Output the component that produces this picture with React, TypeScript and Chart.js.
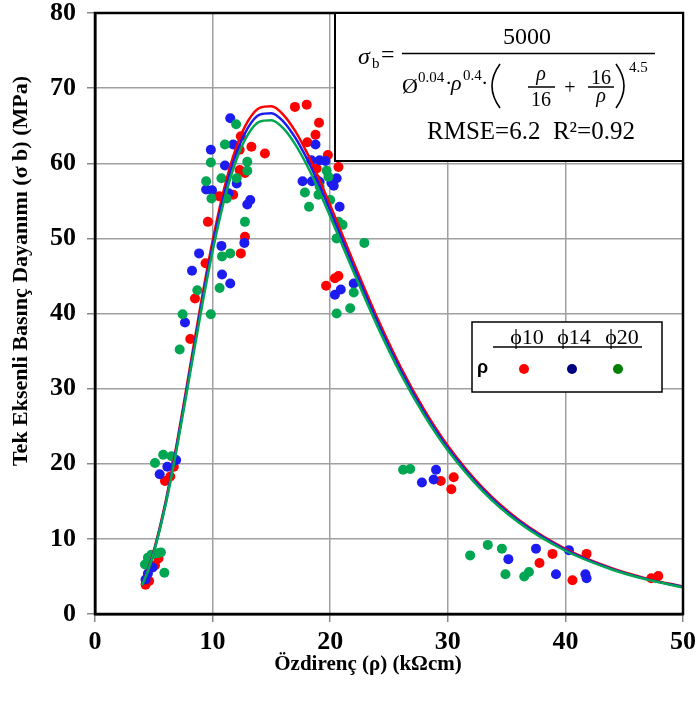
import React, { useEffect, useRef } from "react";
import { Chart, registerables } from "chart.js";

Chart.register(...registerables);

// ---- fitted curves (σb vs ρ) for the three diameters ----
const curveRho = [4, 4.5, 5, 6, 7, 8, 9, 10, 11, 12, 13, 14, 15, 16, 17, 18, 19, 20, 22, 24, 26, 28, 30, 33, 36, 40, 44, 47, 50];
const curvePhi10 = [3.9, 5.88, 8.4, 14.92, 23.07, 32.14, 41.27, 49.64, 56.72, 62.07, 65.6, 67.38, 67.58, 66.48, 64.34, 61.48, 58.1, 54.4, 46.76, 39.43, 32.85, 27.18, 22.41, 16.75, 12.57, 8.66, 6.05, 4.68, 3.65];
const curvePhi14 = [3.85, 5.81, 8.29, 14.72, 22.76, 31.71, 40.71, 48.98, 55.96, 61.24, 64.71, 66.48, 66.67, 65.59, 63.48, 60.66, 57.33, 53.67, 46.13, 38.9, 32.41, 26.81, 22.11, 16.53, 12.4, 8.54, 5.97, 4.61, 3.6];
const curvePhi20 = [3.79, 5.72, 8.17, 14.51, 22.43, 31.26, 40.14, 48.28, 55.17, 60.37, 63.8, 65.54, 65.73, 64.67, 62.58, 59.8, 56.52, 52.91, 45.48, 38.35, 31.95, 26.43, 21.79, 16.29, 12.22, 8.42, 5.89, 4.55, 3.55];

// ---- measured points ----
const redX = [4.3, 4.6, 5.1, 5.4, 5.95, 6.4, 6.7, 8.1, 8.5, 9.4, 9.6, 10.55, 11.75, 12.4, 12.75, 12.75, 12.3, 12.3, 12.4, 13.3, 14.45, 17.0, 18.0, 19.05, 18.75, 18.05, 19.8, 20.7, 18.85, 18.85, 19.65, 20.4, 20.7, 29.4, 30.5, 30.3, 37.8, 38.9, 40.6, 41.8, 47.3, 47.9];
const redY = [3.9, 4.4, 6.5, 7.4, 17.7, 18.3, 19.6, 36.6, 42.0, 46.7, 52.2, 55.6, 55.8, 48.0, 50.2, 58.7, 59.1, 61.8, 63.6, 62.2, 61.3, 67.5, 67.8, 65.4, 63.8, 62.8, 61.1, 59.5, 59.3, 57.8, 43.7, 44.7, 45.0, 17.7, 18.2, 16.6, 6.8, 8.0, 4.5, 8.0, 4.75, 5.05];

const blueX = [4.3, 4.5, 4.9, 5.5, 6.15, 6.9, 7.65, 8.25, 8.85, 10.75, 10.8, 11.5, 9.85, 11.5, 11.75, 11.05, 9.45, 9.95, 11.35, 12.05, 13.2, 12.95, 12.7, 18.75, 18.4, 19.1, 19.6, 17.65, 18.45, 19.1, 20.1, 20.55, 20.3, 20.8, 20.4, 20.9, 22.0, 27.8, 28.8, 29.0, 35.15, 37.5, 39.2, 40.3, 41.7, 41.8];
const blueY = [4.6, 5.4, 6.2, 18.6, 19.6, 20.5, 38.8, 45.7, 48.0, 49.0, 45.2, 44.0, 61.8, 66.0, 62.5, 59.7, 56.5, 56.4, 56.0, 57.3, 55.1, 54.5, 49.4, 62.5, 60.4, 60.4, 60.3, 57.6, 57.6, 57.5, 57.4, 58.0, 57.0, 54.2, 42.5, 43.2, 44.0, 17.5, 17.9, 19.2, 7.3, 8.7, 5.3, 8.5, 5.3, 4.75];

const greenX = [4.25, 4.5, 4.8, 5.3, 5.6, 5.9, 5.1, 5.8, 6.5, 7.2, 7.45, 8.7, 9.85, 10.6, 10.8, 11.5, 12.0, 11.05, 9.85, 12.95, 12.95, 10.75, 9.45, 12.05, 9.9, 11.2, 12.75, 19.7, 19.85, 17.85, 19.1, 19.0, 20.0, 18.2, 20.7, 21.05, 22.9, 20.55, 22.0, 20.55, 21.7, 26.2, 26.8, 31.9, 33.4, 34.6, 34.9, 36.5, 36.9];
const greenY = [6.6, 7.5, 7.9, 8.1, 8.2, 5.5, 20.1, 21.2, 21.0, 35.2, 39.9, 43.1, 39.9, 43.4, 47.6, 48.0, 65.2, 62.5, 60.1, 60.2, 59.0, 58.0, 57.6, 58.0, 55.3, 55.3, 52.2, 59.0, 58.2, 56.1, 56.9, 55.8, 55.1, 54.2, 52.2, 51.8, 49.4, 50.0, 42.8, 40.0, 40.7, 19.2, 19.3, 7.8, 9.2, 8.7, 5.3, 5.0, 5.6];

const xTicks = [0, 10, 20, 30, 40, 50];
const yTicks = [0, 10, 20, 30, 40, 50, 60, 70, 80];
const legendLabels = ["ϕ10", "ϕ14", "ϕ20"];
const xTitle = "Özdirenç (ρ) (kΩcm)";
const yTitle = "Tek Eksenli Basınç Dayanımı (σ b) (MPa)";
const rmseText = "RMSE=6.2  R²=0.92";

const RED = "#ff0000";
const BLUE = "#1c1cf0";
const GREEN = "#00a651";
const SERIF = "'Liberation Serif', 'Times New Roman', serif";

const pts = (xs: number[], ys: number[]) => xs.map((x, i) => ({ x, y: ys[i] }));

const overlayPlugin = {
  id: "overlay",
  afterDraw(chart: any) {
    const ctx = chart.ctx as CanvasRenderingContext2D;
    const a = chart.chartArea;
    ctx.save();
    // frame
    ctx.strokeStyle = "#000";
    ctx.lineWidth = 2.5;
    ctx.strokeRect(a.left, a.top, a.right - a.left, a.bottom - a.top);

    // axis titles
    ctx.fillStyle = "#000";
    ctx.textAlign = "center";
    ctx.textBaseline = "middle";
    ctx.font = `bold 21px ${SERIF}`;
    ctx.fillText(xTitle, 368, 665);
    ctx.font = `bold 22px ${SERIF}`;
    ctx.save();
    ctx.translate(21, 271);
    ctx.rotate(-Math.PI / 2);
    ctx.fillText(yTitle, 0, 0);
    ctx.restore();

    // equation box
    const bx = 335, by = a.top, bw = a.right - 335, bh = 161 - a.top;
    ctx.fillStyle = "#fff";
    ctx.fillRect(bx, by, bw, bh);
    ctx.lineWidth = 2;
    ctx.strokeRect(bx, by, bw, bh);

    ctx.fillStyle = "#000";
    ctx.textBaseline = "alphabetic";
    ctx.textAlign = "left";
    ctx.font = `italic 24px ${SERIF}`;
    ctx.fillText("σ", 358, 64);
    ctx.font = `15px ${SERIF}`;
    ctx.fillText("b", 372, 68);
    ctx.font = `24px ${SERIF}`;
    ctx.fillText("=", 381, 62);
    // main fraction bar
    ctx.lineWidth = 1.5;
    ctx.beginPath();
    ctx.moveTo(402, 53.5);
    ctx.lineTo(655, 53.5);
    ctx.stroke();
    ctx.textAlign = "center";
    ctx.font = `24px ${SERIF}`;
    ctx.fillText("5000", 527, 44);
    // denominator
    ctx.textAlign = "left";
    ctx.font = `22px ${SERIF}`;
    ctx.fillText("Ø", 402, 93);
    ctx.font = `15px ${SERIF}`;
    ctx.fillText("0.04", 418, 82);
    ctx.font = `22px ${SERIF}`;
    ctx.fillText("·", 445, 90);
    ctx.font = `italic 22px ${SERIF}`;
    ctx.fillText("ρ", 451, 90);
    ctx.font = `15px ${SERIF}`;
    ctx.fillText("0.4", 463, 80);
    ctx.font = `22px ${SERIF}`;
    ctx.fillText("·", 481, 90);
    // tall parentheses
    ctx.lineWidth = 1.6;
    ctx.beginPath();
    ctx.moveTo(500, 64);
    ctx.quadraticCurveTo(484, 86, 500, 108);
    ctx.moveTo(616, 64);
    ctx.quadraticCurveTo(632, 86, 616, 108);
    ctx.stroke();
    ctx.textAlign = "center";
    ctx.font = `italic 20px ${SERIF}`;
    ctx.fillText("ρ", 541, 80);
    ctx.font = `20px ${SERIF}`;
    ctx.fillText("16", 541, 106);
    ctx.fillText("+", 570, 94);
    ctx.fillText("16", 601, 84);
    ctx.font = `italic 20px ${SERIF}`;
    ctx.fillText("ρ", 601, 102);
    ctx.lineWidth = 1.5;
    ctx.beginPath();
    ctx.moveTo(528, 87);
    ctx.lineTo(555, 87);
    ctx.moveTo(588, 87);
    ctx.lineTo(614, 87);
    ctx.stroke();
    ctx.textAlign = "left";
    ctx.font = `15px ${SERIF}`;
    ctx.fillText("4.5", 629, 72);
    // RMSE
    ctx.font = `25px ${SERIF}`;
    ctx.fillText(rmseText, 427, 139);

    // legend
    const lx = 472, ly = 322, lw = 190, lh = 70;
    ctx.fillStyle = "#fff";
    ctx.fillRect(lx, ly, lw, lh);
    ctx.strokeStyle = "#000";
    ctx.lineWidth = 1.5;
    ctx.strokeRect(lx, ly, lw, lh);
    ctx.fillStyle = "#000";
    ctx.textAlign = "center";
    ctx.font = `22px ${SERIF}`;
    const cx = [527, 574, 622];
    legendLabels.forEach((t, i) => ctx.fillText(t, cx[i], 344));
    ctx.beginPath();
    ctx.moveTo(493, 347);
    ctx.lineTo(642, 347);
    ctx.stroke();
    ctx.font = `bold 18px 'Liberation Sans', Arial, sans-serif`;
    ctx.textAlign = "left";
    ctx.fillText("ρ", 477, 373);
    const dotCol = ["#ff0000", "#000080", "#008000"];
    const dx = [524, 572, 618];
    dotCol.forEach((c, i) => {
      ctx.fillStyle = c;
      ctx.beginPath();
      ctx.arc(dx[i], 369, 5, 0, Math.PI * 2);
      ctx.fill();
    });
    ctx.restore();
  },
};

export default function App() {
  const ref = useRef<HTMLCanvasElement | null>(null);
  useEffect(() => {
    if (!ref.current) return;
    const lineDs = (data: number[], color: string) => ({
      type: "scatter" as const,
      data: pts(curveRho, data),
      showLine: true,
      borderColor: color,
      backgroundColor: color,
      borderWidth: 2.5,
      pointRadius: 0,
      cubicInterpolationMode: "monotone" as const,
      order: 0,
    });
    const dotDs = (xs: number[], ys: number[], color: string) => ({
      type: "scatter" as const,
      data: pts(xs, ys),
      backgroundColor: color,
      borderWidth: 0,
      pointRadius: 5,
      order: 1,
    });
    const chart = new Chart(ref.current, {
      type: "scatter",
      data: {
        datasets: [
          lineDs(curvePhi20, GREEN),
          lineDs(curvePhi14, BLUE),
          lineDs(curvePhi10, RED),
          dotDs(greenX, greenY, GREEN),
          dotDs(blueX, blueY, BLUE),
          dotDs(redX, redY, RED),
        ] as any,
      },
      options: {
        animation: false,
        responsive: false,
        devicePixelRatio: 1,
        layout: { padding: { top: 13, right: 15, left: 0, bottom: 0 } },
        plugins: { legend: { display: false }, tooltip: { enabled: false } },
        scales: {
          x: {
            type: "linear",
            min: 0,
            max: 50,
            afterFit: (s: any) => { s.height = 90; s.paddingLeft = 0; s.paddingRight = 0; },
            afterBuildTicks: (s: any) => { s.ticks = xTicks.map((v) => ({ value: v })); },
            ticks: { color: "#000", padding: 5, font: { family: SERIF, size: 26, weight: "bold" } },
            grid: { color: "#a0a0a0", lineWidth: 1.5, tickLength: 8, tickColor: "#888" },
            border: { color: "#000", width: 2.5 },
          },
          y: {
            type: "linear",
            min: 0,
            max: 80,
            afterFit: (s: any) => { s.width = 95; s.paddingTop = 0; s.paddingBottom = 0; },
            afterBuildTicks: (s: any) => { s.ticks = yTicks.map((v) => ({ value: v })); },
            ticks: { color: "#000", padding: 11, font: { family: SERIF, size: 26, weight: "bold" } },
            grid: { color: "#a0a0a0", lineWidth: 1.5, tickLength: 8, tickColor: "#888" },
            border: { color: "#000", width: 2.5 },
          },
        },
      },
      plugins: [overlayPlugin],
    });
    return () => chart.destroy();
  }, []);
  return (
    <div style={{ position: "absolute", left: 0, top: 0 }}>
      <canvas ref={ref} width={698} height={704} style={{ display: "block" }} />
    </div>
  );
}
